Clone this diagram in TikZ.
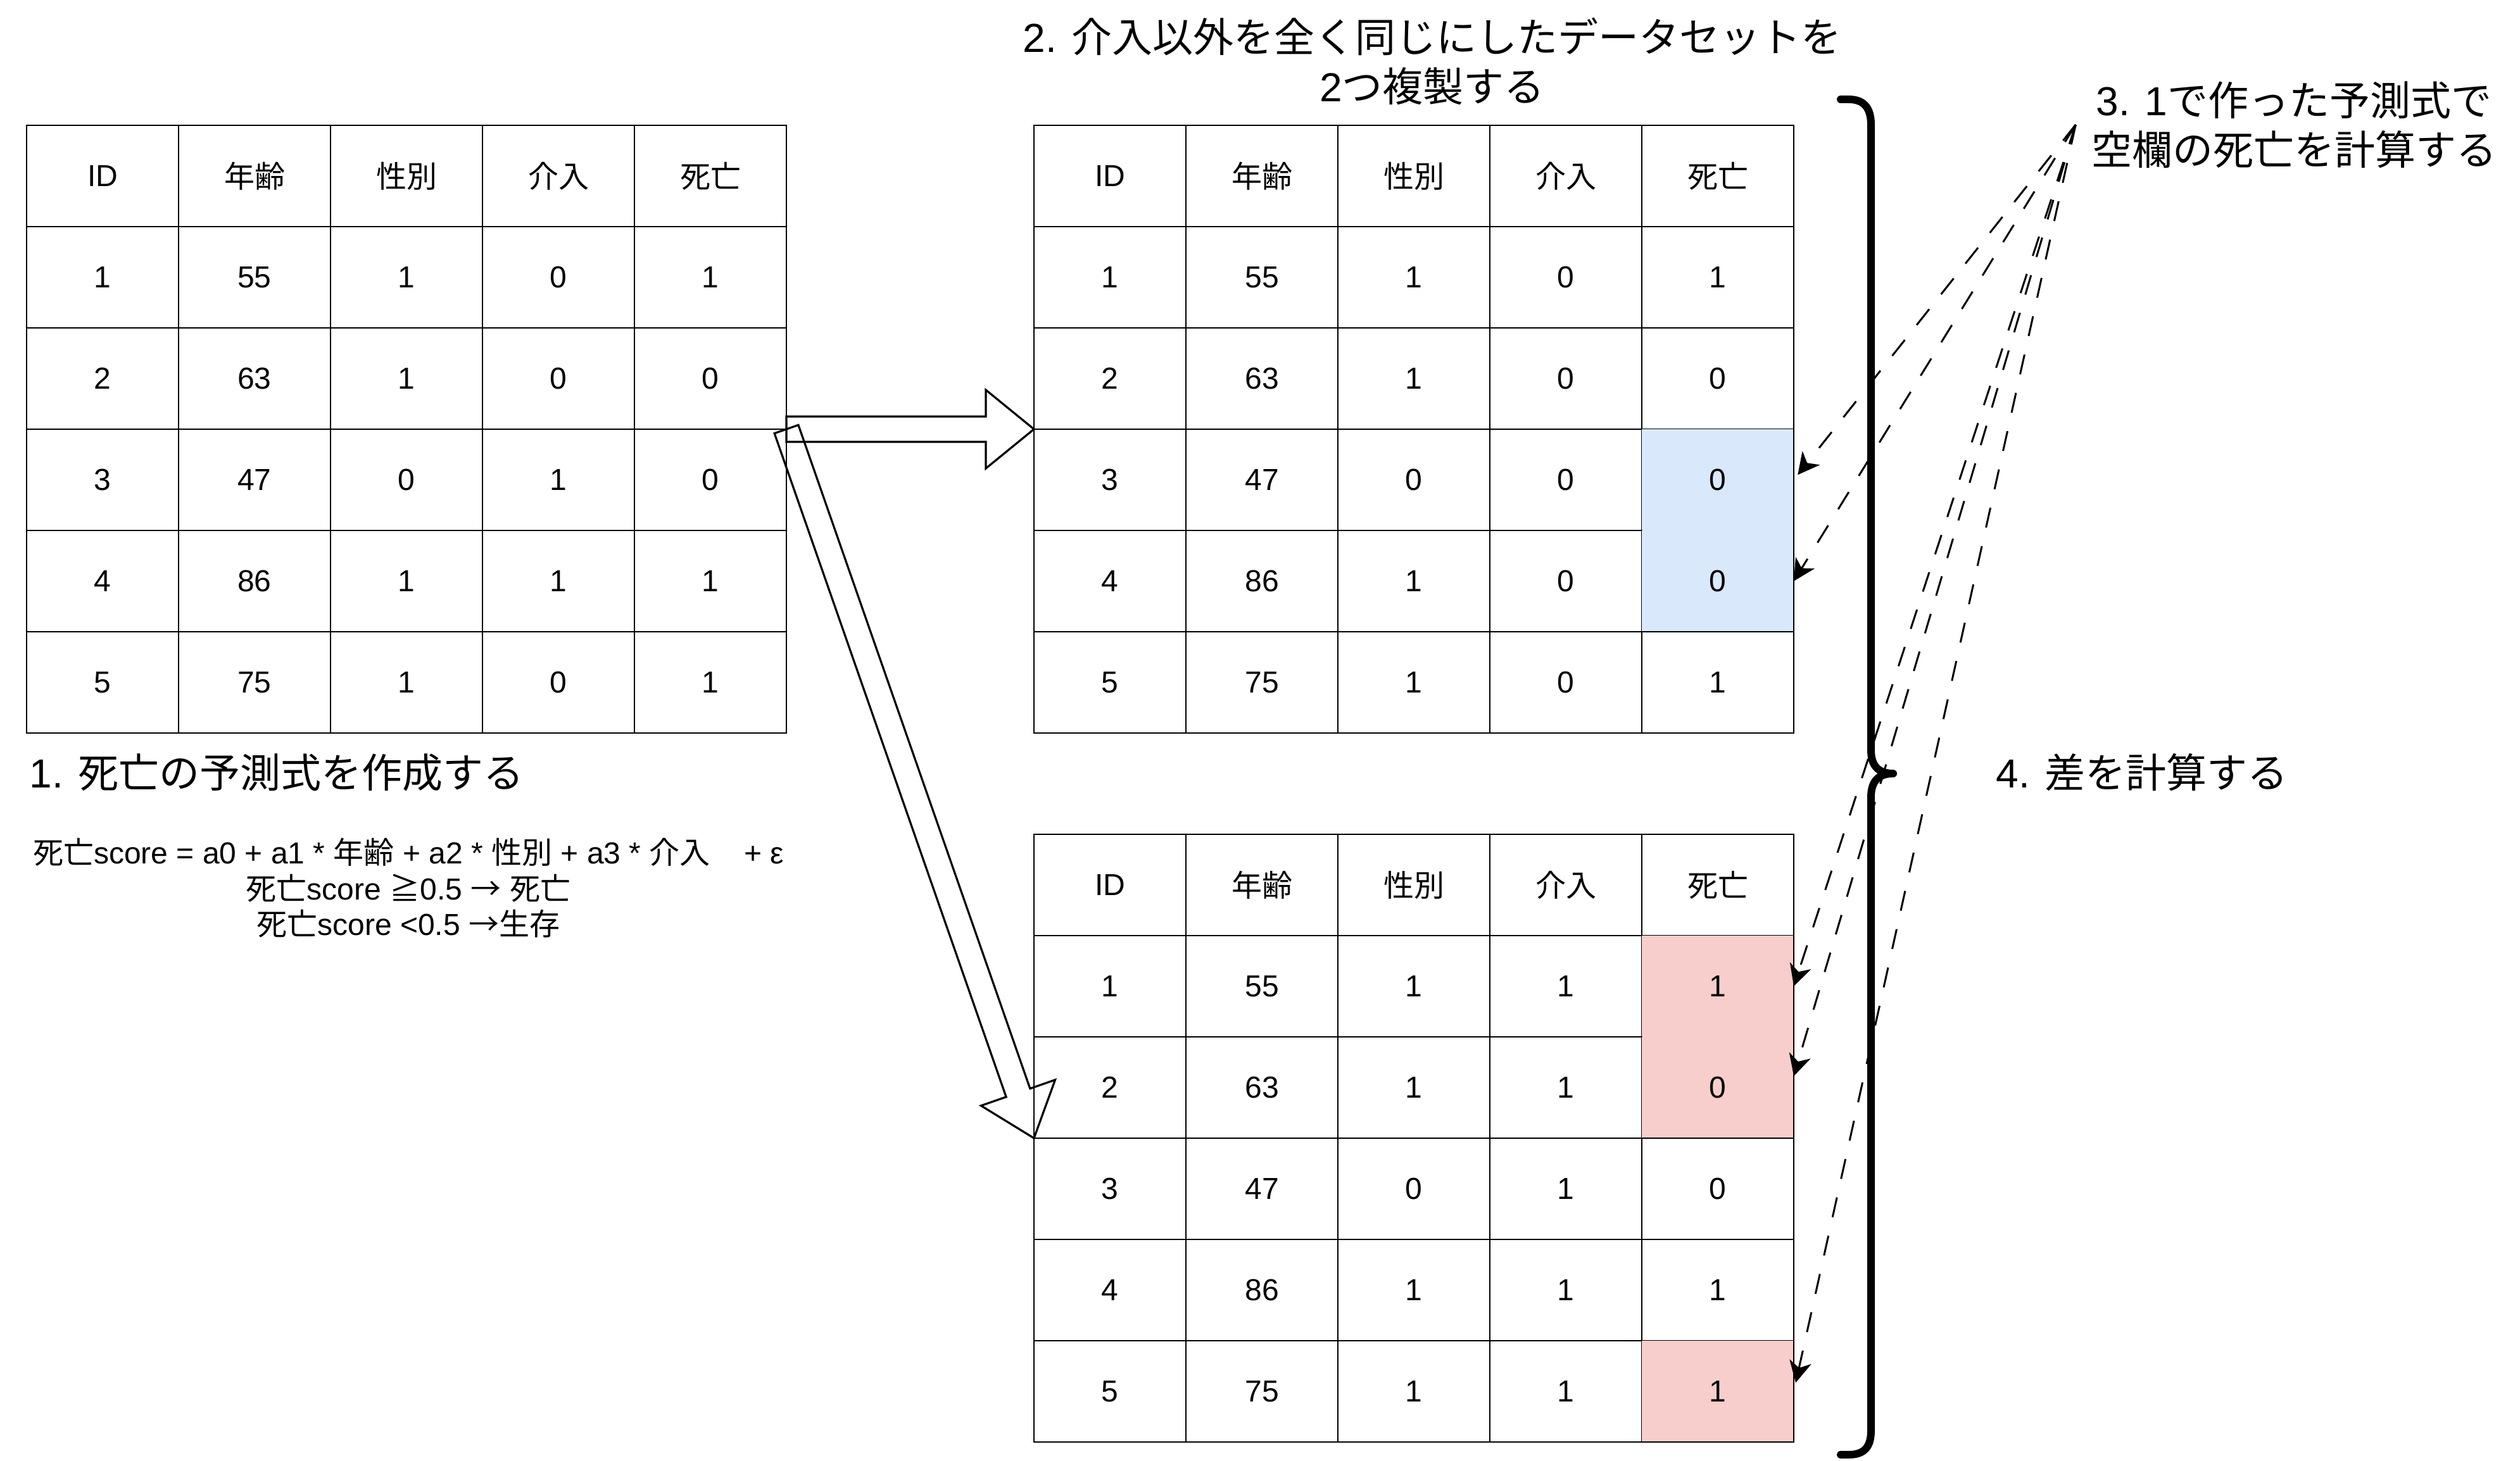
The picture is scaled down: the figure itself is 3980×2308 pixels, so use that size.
\documentclass[tikz,border=0pt]{standalone}
\usepackage{fontspec}
\setmainfont{Liberation Sans}
\newfontfamily\jp{Noto Sans CJK JP}
\usetikzlibrary{calc,arrows.meta}

\definecolor{cellblue}{HTML}{DAE8FC}
\definecolor{cellpink}{HTML}{F8CECC}

\tikzset{
	cell/.style={draw, line width=0.7pt, minimum width=60pt, minimum height=40pt, inner sep=0pt, outer sep=0pt, font=\fontsize{12}{14}\selectfont},
	kind/.is choice,
	kind/plain/.style={},
	kind/blue/.style={draw=none, fill=cellblue},
	kind/pink/.style={draw=none, fill=cellpink},
	frame/.style={line width=0.7pt},
	blockline/.style={line width=0.8pt, line join=miter},
	hint/.style={line width=0.75pt, dash pattern=on 8pt off 7.5pt, -{Stealth[length=8.5pt,width=8.75pt,inset=2.5pt]}},
	bracket/.style={line width=3pt, line cap=round, line join=round},
	title/.style={font=\fontsize{16}{19.5}\selectfont, align=center, inner sep=0pt},
	note/.style={font=\fontsize{12}{14.1}\selectfont, align=center, inner sep=0pt}
}

% one table: name, left x, top y, rows (id/5 values/kind of last cell)
\newcommand\datatable[4]{
	\foreach \i/\va/\vb/\vc/\vd/\ve/\vf in {#4} {
		\node[cell] (#1-\i-1) at ({#2+120}, {#3+160*\i+80}) {\va};
		\node[cell] (#1-\i-2) at ({#2+360}, {#3+160*\i+80}) {\vb};
		\node[cell] (#1-\i-3) at ({#2+600}, {#3+160*\i+80}) {\vc};
		\node[cell] (#1-\i-4) at ({#2+840}, {#3+160*\i+80}) {\vd};
		\node[cell, kind/.expand once=\vf] (#1-\i-5) at ({#2+1080}, {#3+160*\i+80}) {\ve};
	}
	\draw[frame] (#1-0-1.north west) rectangle (#1-5-5.south east);
}

% hollow arrow from #1 to #2
\newcommand\blockarrow[2]{
	\coordinate (headbase) at ($(#2)!19pt!(#1)$);
	\draw[blockline] ($(#1)!5pt!90:(#2)$) -- ($(headbase)!5pt!90:(#2)$) -- ($(headbase)!15.5pt!90:(#2)$) -- (#2)
		-- ($(headbase)!15.5pt!-90:(#2)$) -- ($(headbase)!5pt!-90:(#2)$) -- ($(#1)!5pt!-90:(#2)$) -- cycle;
}

\begin{document}
\begin{tikzpicture}[x=0.25pt, y=-0.25pt]
			%%%%% START %%%%%
			
			\fill[white] (0, 0) rectangle (3980, 2308);
			\useasboundingbox (0, 0) rectangle (3980, 2308);
			
			% original data
			\datatable{t1}{42}{198}{0/ID/{\jp 年齢}/{\jp 性別}/{\jp 介入}/{\jp 死亡}/plain,
				1/1/55/1/0/1/plain, 2/2/63/1/0/0/plain, 3/3/47/0/1/0/plain,
				4/4/86/1/1/1/plain, 5/5/75/1/0/1/plain}
			
			% copy with 介入 = 0
			\datatable{t2}{1633}{198}{0/ID/{\jp 年齢}/{\jp 性別}/{\jp 介入}/{\jp 死亡}/plain,
				1/1/55/1/0/1/plain, 2/2/63/1/0/0/plain, 3/3/47/0/0/0/blue,
				4/4/86/1/0/0/blue, 5/5/75/1/0/1/plain}
			
			% copy with 介入 = 1
			\datatable{t3}{1633}{1318}{0/ID/{\jp 年齢}/{\jp 性別}/{\jp 介入}/{\jp 死亡}/plain,
				1/1/55/1/1/1/pink, 2/2/63/1/1/0/pink, 3/3/47/0/1/0/plain,
				4/4/86/1/1/1/plain, 5/5/75/1/1/1/pink}
			
			\node[title, anchor=west] (step1) at (46, 1220) {1. {\jp 死亡の予測式を作成する}};
			\node[note] (model) at (645, 1403) {{\jp 死亡}score = a0 + a1 * {\jp 年齢} + a2 * {\jp 性別} + a3 * {\jp 介入}~~~~+ ε\\
				{\jp 死亡}score {\jp ≧}0.5 {\jp →} {\jp 死亡}\\
				{\jp 死亡}score <0.5 {\jp →生存}};
			
			\node[title] (step2) at (2262, 97) {2. {\jp 介入以外を全く同じにしたデータセットを}\\2{\jp つ複製する}};
			\node[title, inner sep=6pt] (step3) at (3623, 197) {3. 1{\jp で作った予測式で}\\{\jp 空欄の死亡を計算する}};
			\node[title, anchor=west] (step4) at (3152, 1220) {4. {\jp 差を計算する}};
			
			\blockarrow{t1-2-5.south east}{t2-2-1.south west}
			\blockarrow{t1-2-5.south east}{t3-2-1.south west}
			
			\draw[hint, shorten >=2.5pt] (step3.west) -- (t2-3-5.east);
			\draw[hint] (step3.west) -- (t2-4-5.east);
			\draw[hint] (step3.west) -- (t3-1-5.east);
			\draw[hint] (step3.west) -- ([yshift=4.5pt]t3-2-5.east);
			\draw[hint, shorten >=3.5pt] (step3.west) -- (t3-5-5.east);
			
			\draw[bracket] (2907, 157) -- (2920, 157) .. controls (2945, 157) and (2955, 172) .. (2955, 197)
				-- (2955, 1185) .. controls (2955, 1208) and (2965, 1222) .. (2990, 1222)
				.. controls (2965, 1222) and (2955, 1236) .. (2955, 1259)
				-- (2955, 2260) .. controls (2955, 2285) and (2945, 2298) .. (2920, 2298) -- (2907, 2298);
			
			%%%%% END %%%%%
\end{tikzpicture}
\end{document}
